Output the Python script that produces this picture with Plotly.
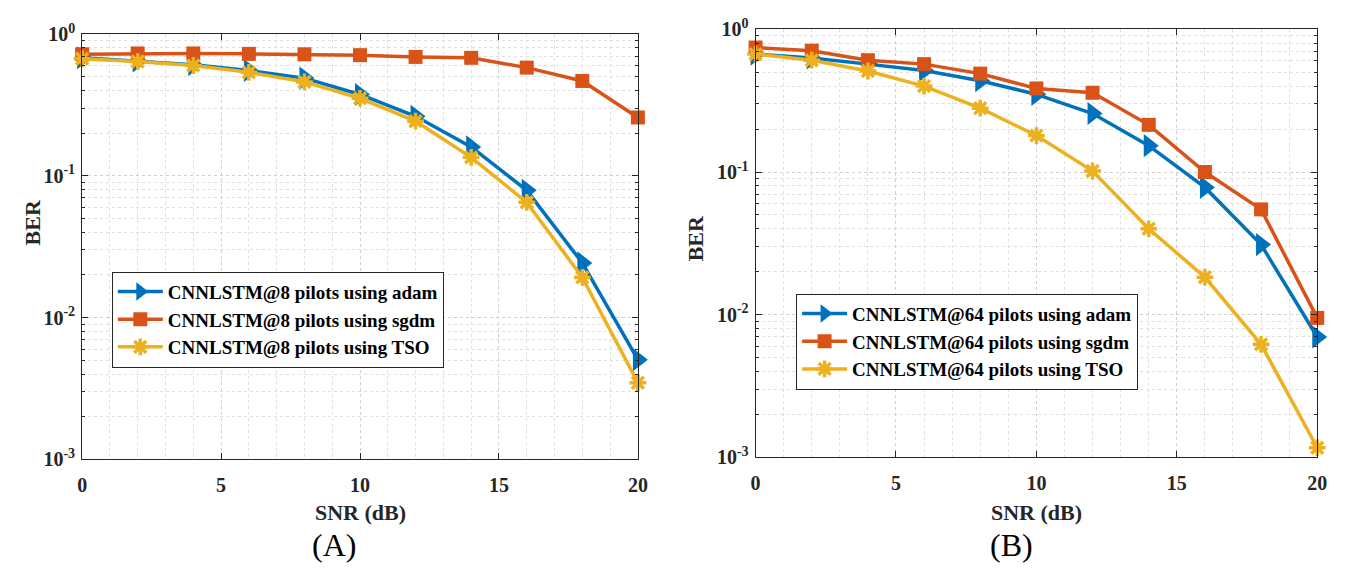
import plotly.graph_objects as go

snr = [0, 2, 4, 6, 8, 10, 12, 14, 16, 18, 20]

a_adam = [0.68, 0.647, 0.608, 0.553, 0.489, 0.375, 0.263, 0.16, 0.079, 0.0243, 0.00505]
a_sgdm = [0.72, 0.73, 0.73, 0.725, 0.72, 0.71, 0.69, 0.68, 0.58, 0.467, 0.258]
a_tso = [0.67, 0.64, 0.60, 0.537, 0.46, 0.352, 0.243, 0.135, 0.065, 0.0192, 0.00347]

b_adam = [0.67, 0.63, 0.57, 0.515, 0.436, 0.35, 0.257, 0.153, 0.078, 0.031, 0.00698]
b_sgdm = [0.745, 0.708, 0.607, 0.57, 0.489, 0.385, 0.359, 0.214, 0.10, 0.0547, 0.0095]
b_tso = [0.67, 0.607, 0.51, 0.40, 0.28, 0.18, 0.1016, 0.040, 0.0183, 0.0062, 0.00117]

names_a = ["CNNLSTM@8 pilots using adam", "CNNLSTM@8 pilots using sgdm", "CNNLSTM@8 pilots using TSO"]
names_b = ["CNNLSTM@64 pilots using adam", "CNNLSTM@64 pilots using sgdm", "CNNLSTM@64 pilots using TSO"]

x_ticks = [0, 5, 10, 15, 20]
y_ticks = [1e-3, 1e-2, 1e-1, 1e0]
y_ticktext = ["10<sup>-3</sup>", "10<sup>-2</sup>", "10<sup>-1</sup>", "10<sup>0</sup>"]
y_minor = [k * 10.0 ** e for e in (-3, -2, -1) for k in range(2, 10)]

C_BLUE = "#0072BD"
C_RED = "#D95319"
C_YEL = "#EDB120"
FONT = "Liberation Serif, Times New Roman, serif"
W, H = 1349, 569

styles = [
    dict(color=C_BLUE, symbol="triangle-right", size=20, lw=0),
    dict(color=C_RED, symbol="square", size=14, lw=0),
    dict(color=C_YEL, symbol="asterisk-open", size=14, lw=3.5),
]

fig = go.Figure()

def add_series(ys_list, names, xa, ya, legend):
    for ys, name, st in zip(ys_list, names, styles):
        fig.add_trace(go.Scatter(
            x=snr, y=ys, name=name, mode="lines+markers",
            line=dict(color=st["color"], width=3.5),
            marker=dict(symbol=st["symbol"], size=st["size"], color=st["color"],
                        line=dict(color=st["color"], width=st["lw"])),
            xaxis=xa, yaxis=ya, legend=legend, cliponaxis=False,
        ))

add_series([a_adam, a_sgdm, a_tso], names_a, "x", "y", "legend")
add_series([b_adam, b_sgdm, b_tso], names_b, "x2", "y2", "legend2")

def px_dom(a, b, total):
    return [a / total, b / total]

def ydom(top, bottom):
    return [1 - bottom / H, 1 - top / H]

axis_common = dict(
    showline=True, linecolor="#262626", linewidth=1, mirror="allticks",
    ticks="inside", ticklen=6, tickcolor="#262626",
    showgrid=True, gridcolor="#cfcfcf", griddash="dot", gridwidth=1,
    zeroline=False,
    tickfont=dict(family=FONT, size=20, color="#262626", weight="bold"),
)

xaxis_cfg = dict(axis_common, range=[0, 20], tickvals=x_ticks, ticktext=[str(v) for v in x_ticks],
                 ticklabelstandoff=8,
                 minor=dict(dtick=1, showgrid=True, gridcolor="#e0e0e0", griddash="dot", ticks=""))
yaxis_cfg = dict(axis_common, type="log", range=[-3, 0], tickvals=y_ticks, ticktext=y_ticktext,
                 ticklabelstandoff=2,
                 minor=dict(tickvals=y_minor, showgrid=True, gridcolor="#e0e0e0", griddash="dot",
                            ticks="inside", ticklen=3, tickcolor="#262626"))

leg_font = dict(family=FONT, size=19, color="#000", weight="bold")

fig.update_layout(
    width=W, height=H,
    margin=dict(l=0, r=0, t=0, b=0),
    paper_bgcolor="white", plot_bgcolor="white",
    showlegend=True,
    xaxis=dict(xaxis_cfg, domain=px_dom(78, 640, W), anchor="y"),
    yaxis=dict(yaxis_cfg, domain=ydom(22, 466), anchor="x"),
    xaxis2=dict(xaxis_cfg, domain=px_dom(759, 1327, W), anchor="y2"),
    yaxis2=dict(yaxis_cfg, domain=ydom(17, 464), anchor="x2"),
    legend=dict(x=108 / W, y=1 - 270 / H, xanchor="left", yanchor="top",
                bgcolor="white", bordercolor="#262626", borderwidth=1,
                font=leg_font, tracegroupgap=0, itemwidth=45),
    legend2=dict(x=800 / W, y=1 - 293 / H, xanchor="left", yanchor="top",
                 bgcolor="white", bordercolor="#262626", borderwidth=1,
                 font=leg_font, tracegroupgap=0, itemwidth=45),
)

ann_font_title = dict(family=FONT, size=22, color="#262626", weight="bold")
anns = [
    dict(text="SNR (dB)", x=359 / W, y=1 - 521 / H, font=ann_font_title),
    dict(text="SNR (dB)", x=1043 / W, y=1 - 521 / H, font=ann_font_title),
    dict(text="BER", x=28 / W, y=1 - 219 / H, font=ann_font_title, textangle=-90),
    dict(text="BER", x=698 / W, y=1 - 235 / H, font=ann_font_title, textangle=-90),
    dict(text="(A)", x=333 / W, y=1 - 555 / H, font=dict(family=FONT, size=32, color="#000")),
    dict(text="(B)", x=1018 / W, y=1 - 555 / H, font=dict(family=FONT, size=32, color="#000")),
]
for a in anns:
    fig.add_annotation(xref="paper", yref="paper", showarrow=False,
                       xanchor="center", yanchor="middle", **a)

fig.write_html("out.html")
